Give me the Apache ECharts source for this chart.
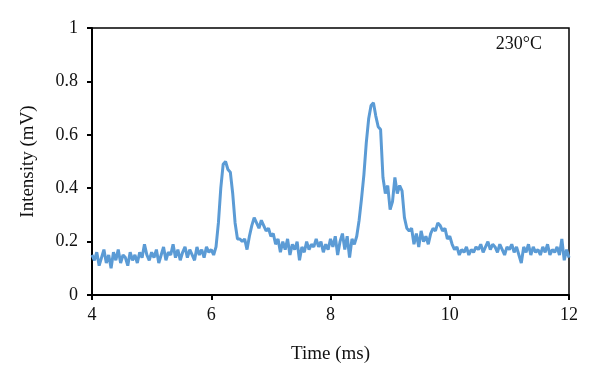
<!DOCTYPE html>
<html>
<head>
<meta charset="utf-8">
<script src="https://cdn.jsdelivr.net/npm/echarts@6/dist/echarts.min.js"></script>
<style>
  html, body { margin: 0; padding: 0; background: #fff; }
  #chart { width: 600px; height: 377px; }
</style>
</head>
<body>
<div id="chart"></div>
<script>
// 采样起点和步长 (ms)
const timeStart = 4;
const timeStep = 0.04;

// 信号强度 (mV), 从图上读出, 每 0.04 ms 一个点
const intensity = [
    // 4.00 - 4.96
    0.15, 0.13, 0.16, 0.11, 0.14, 0.17, 0.12, 0.15, 0.10, 0.16, 0.13, 0.17, 0.12,
    0.15, 0.14, 0.11, 0.16, 0.13, 0.15, 0.12, 0.16, 0.14, 0.19, 0.15, 0.13,
    // 5.00 - 5.96
    0.16, 0.14, 0.17, 0.12, 0.15, 0.18, 0.13, 0.16, 0.15, 0.19, 0.14, 0.17, 0.13,
    0.16, 0.18, 0.14, 0.17, 0.15, 0.13, 0.18, 0.15, 0.17, 0.14, 0.18, 0.16,
    // 6.00 - 6.96
    0.17, 0.15, 0.18, 0.27, 0.40, 0.49, 0.50, 0.47, 0.46, 0.38, 0.27, 0.21, 0.21,
    0.20, 0.21, 0.17, 0.22, 0.26, 0.29, 0.27, 0.25, 0.28, 0.26, 0.24, 0.25,
    // 7.00 - 7.96
    0.22, 0.23, 0.19, 0.21, 0.16, 0.20, 0.17, 0.21, 0.15, 0.19, 0.17, 0.20, 0.13,
    0.18, 0.16, 0.20, 0.17, 0.19, 0.18, 0.21, 0.18, 0.20, 0.16, 0.19, 0.17,
    // 8.00 - 8.96
    0.21, 0.18, 0.22, 0.15, 0.20, 0.23, 0.17, 0.22, 0.14, 0.21, 0.19, 0.22, 0.28,
    0.36, 0.45, 0.57, 0.66, 0.71, 0.72, 0.67, 0.63, 0.62, 0.44, 0.38, 0.41,
    // 9.00 - 9.96
    0.32, 0.35, 0.44, 0.38, 0.41, 0.39, 0.29, 0.25, 0.24, 0.25, 0.19, 0.23, 0.18,
    0.24, 0.20, 0.22, 0.19, 0.23, 0.25, 0.24, 0.27, 0.26, 0.24, 0.25, 0.21,
    // 10.00 - 10.96
    0.22, 0.19, 0.17, 0.18, 0.15, 0.17, 0.16, 0.18, 0.15, 0.17, 0.16, 0.18, 0.17,
    0.19, 0.16, 0.18, 0.20, 0.17, 0.19, 0.18, 0.16, 0.19, 0.17, 0.15, 0.18,
    // 11.00 - 12.00
    0.17, 0.19, 0.16, 0.18, 0.15, 0.12, 0.18, 0.16, 0.19, 0.15, 0.18, 0.16, 0.17,
    0.15, 0.18, 0.16, 0.19, 0.15, 0.17, 0.16, 0.18, 0.15, 0.21, 0.13, 0.17,
    0.14
];

const xTicks = [4, 6, 8, 10, 12];
const yTicks = [0, 0.2, 0.4, 0.6, 0.8, 1];
const label = '230°C';

const font = '"Liberation Serif", "DejaVu Serif", serif';

let points = intensity.map((v, i) => [+(timeStart + i * timeStep).toFixed(2), v]);

let chart = echarts.init(document.getElementById('chart'));
chart.setOption({
    animation: false,
    grid: {
        left: 92,
        right: 31,
        top: 28,
        bottom: 82,
        show: true,
        borderColor: '#000',
        borderWidth: 1.5,
        backgroundColor: 'transparent'
    },
    xAxis: {
        type: 'value',
        min: xTicks[0],
        max: xTicks[xTicks.length - 1],
        interval: 2,
        name: 'Time (ms)',
        nameLocation: 'middle',
        nameGap: 50,
        nameTextStyle: { fontFamily: font, fontSize: 19, color: '#111' },
        axisLine: { lineStyle: { color: '#000', width: 2 } },
        axisTick: { show: true, length: 5, lineStyle: { color: '#000', width: 2 } },
        axisLabel: { fontFamily: font, fontSize: 18, color: '#111', margin: 11 },
        splitLine: { show: false }
    },
    yAxis: {
        type: 'value',
        min: yTicks[0],
        max: yTicks[yTicks.length - 1],
        interval: 0.2,
        name: 'Intensity (mV)',
        nameLocation: 'middle',
        nameGap: 54,
        nameTextStyle: { fontFamily: font, fontSize: 19, color: '#111' },
        axisLine: { show: true, lineStyle: { color: '#000', width: 2 } },
        axisTick: { show: true, length: 5, lineStyle: { color: '#000', width: 2 } },
        axisLabel: { fontFamily: font, fontSize: 18, color: '#111', margin: 14 },
        splitLine: { show: false }
    },
    graphic: [
        {
            type: 'text',
            right: 58,
            top: 35,
            style: { text: label, font: '18px ' + font, fill: '#111' }
        }
    ],
    series: [
        {
            type: 'line',
            data: points,
            showSymbol: false,
            lineStyle: { color: '#5B9BD5', width: 3 },
            itemStyle: { color: '#5B9BD5' }
        }
    ]
});
</script>
</body>
</html>
